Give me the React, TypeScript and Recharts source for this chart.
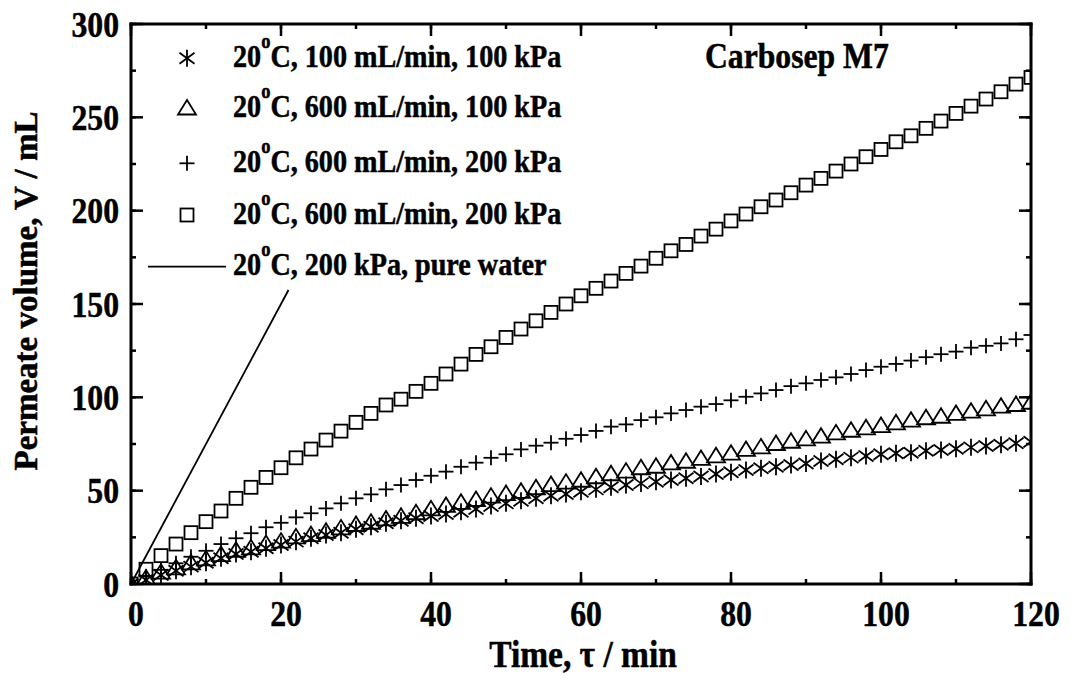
import React from "react";
import { ScatterChart, Scatter, XAxis, YAxis, Legend } from "recharts";

const FONT = "'Liberation Serif', 'Times New Roman', serif";
const SX = 0.88;
const W = 1063;
const H = 665;

const TIME = [
  0, 2, 4, 6, 8, 10, 12, 14, 16, 18, 20, 22, 24, 26, 28, 30, 32, 34, 36, 38, 40,
  42, 44, 46, 48, 50, 52, 54, 56, 58, 60, 62, 64, 66, 68, 70, 72, 74, 76, 78, 80,
  82, 84, 86, 88, 90, 92, 94, 96, 98, 100, 102, 104, 106, 108, 110, 112, 114, 116, 118, 120,
];

// 20 C, 100 mL/min, 100 kPa
const STAR = [
  0, 2.1, 4.8, 7.1, 9.3, 11.4, 13.8, 16.1, 17.3, 19.1, 20.9, 22.7, 24.5, 26.2, 27.5, 29.3, 30.7, 32.5, 33.9, 35.2, 36.4,
  37.5, 38.7, 40.2, 41.8, 43.2, 44.6, 45.9, 47.3, 48.2, 49.4, 50.7, 51.8, 53.0, 53.9, 54.8, 55.7, 56.6, 57.6, 58.9, 59.9,
  61.1, 62.0, 62.8, 63.7, 64.6, 65.9, 66.8, 67.7, 68.6, 69.5, 70.0, 70.3, 71.4, 71.8, 72.5, 73.2, 73.9, 74.6, 75.4, 76.2,
];

// 20 C, 600 mL/min, 100 kPa
const TRI = [
  0, 3.0, 6.1, 8.4, 11.1, 13.2, 15.5, 17.8, 19.1, 21.4, 22.7, 25.0, 26.2, 28.0, 29.8, 31.6, 32.8, 34.6, 36.0, 37.9, 40.0,
  41.8, 43.5, 45.0, 46.8, 48.2, 49.4, 51.3, 53.0, 54.3, 55.3, 57.2, 58.8, 60.2, 62.0, 62.8, 64.6, 65.5, 67.0, 68.4, 69.8,
  71.8, 73.2, 75.0, 76.2, 77.5, 78.9, 80.7, 82.1, 83.4, 84.6, 86.1, 87.5, 88.8, 89.6, 91.1, 92.3, 93.6, 95.0, 95.9, 97.1,
];

// 20 C, 600 mL/min, 200 kPa (+)
const PLUS = [
  0, 4.0, 7.6, 11.1, 14.6, 17.8, 21.4, 24.5, 27.2, 30.4, 32.8, 35.7, 37.9, 40.5, 43.2, 45.9, 48.0, 50.7, 53.0, 55.7, 58.0,
  60.2, 62.8, 65.0, 67.6, 69.5, 72.1, 74.1, 75.7, 77.8, 79.8, 82.0, 84.3, 85.5, 87.8, 89.3, 91.4, 93.2, 95.0, 96.4, 98.4,
  100.3, 102.1, 103.9, 106.0, 107.5, 109.3, 110.7, 112.5, 114.6, 116.4, 117.9, 119.7, 121.5, 123.1, 124.5, 126.6, 127.6, 128.9, 131.1, 133.4,
];

// 20 C, 600 mL/min, 200 kPa (square)
const SQUARE = [
  0, 7.9, 15.2, 21.4, 27.5, 33.4, 39.1, 45.9, 51.8, 57.1, 62.3, 67.6, 72.3, 77.1, 81.9, 86.6, 91.4, 95.9, 99.0, 103.2, 107.5,
  112.5, 117.8, 123.0, 127.1, 132.1, 136.6, 141.0, 145.5, 150.0, 154.4, 158.4, 162.3, 166.4, 170.3, 174.5, 178.5, 181.9, 186.4, 190.1, 194.5,
  198.2, 202.1, 205.7, 209.6, 213.7, 217.3, 221.2, 225.0, 228.9, 232.8, 236.9, 240.1, 244.1, 248.0, 252.1, 256.0, 259.8, 263.7, 267.8, 271.4,
];

// pure water line
const WATER_T = [0, 21];
const WATER_V = [0, 157.5];

const X_MAJOR = [0, 20, 40, 60, 80, 100, 120];
const X_MINOR = [0, 10, 20, 30, 40, 50, 60, 70, 80, 90, 100, 110, 120];
const Y_MAJOR = [0, 50, 100, 150, 200, 250, 300];
const Y_MINOR = [0, 25, 50, 75, 100, 125, 150, 175, 200, 225, 250, 275, 300];

const LEGEND = [
  { kind: "star", rest: "C, 100 mL/min, 100 kPa" },
  { kind: "tri", rest: "C, 600 mL/min, 100 kPa" },
  { kind: "plus", rest: "C, 600 mL/min, 200 kPa" },
  { kind: "square", rest: "C, 600 mL/min, 200 kPa" },
  { kind: "line", rest: "C, 200 kPa, pure water" },
];
const LEGEND_Y = [50.3, 100.5, 155.3, 207, 258.7];

const toPoints = (vals: number[]) => TIME.map((t, i) => ({ t, v: vals[i] }));
const water = WATER_T.map((t, i) => ({ t, v: WATER_V[i] }));

function Txt({ x, y, size, anchor = "start", children }: any) {
  return (
    <text
      transform={`translate(${x},${y}) scale(${SX},1)`}
      fontFamily={FONT}
      fontWeight={700}
      fontSize={size}
      textAnchor={anchor}
      fill="#000"
      stroke="#000"
      strokeWidth={0.5}
    >
      {children}
    </text>
  );
}

function Marker({ kind, cx, cy }: { kind: string; cx: number; cy: number }) {
  const s = { stroke: "#000", strokeWidth: 1.8, fill: "none" };
  if (kind === "square")
    return <rect x={cx - 6.5} y={cy - 6.5} width={13} height={13} {...s} />;
  if (kind === "tri")
    return (
      <polygon
        points={`${cx},${cy - 8.5} ${cx - 9},${cy + 6} ${cx + 9},${cy + 6}`}
        {...s}
      />
    );
  if (kind === "plus")
    return (
      <g {...s}>
        <line x1={cx - 7.5} y1={cy} x2={cx + 7.5} y2={cy} />
        <line x1={cx} y1={cy - 7.5} x2={cx} y2={cy + 7.5} />
      </g>
    );
  return (
    <g {...s}>
      <line x1={cx} y1={cy - 8.5} x2={cx} y2={cy + 8.5} />
      <line x1={cx - 7.5} y1={cy - 5.5} x2={cx + 7.5} y2={cy + 5.5} />
      <line x1={cx - 7.5} y1={cy + 5.5} x2={cx + 7.5} y2={cy - 5.5} />
    </g>
  );
}

const BottomLabel = (p: any) => (
  <Txt x={p.x + 5} y={p.y + 42} size={36} anchor="middle">
    {p.payload.value}
  </Txt>
);

const LeftLabel = (p: any) => (
  <Txt x={p.x - 12} y={p.y + 12.5} size={36} anchor="end">
    {p.payload.value}
  </Txt>
);

const NoLabel = () => <g />;

const FRAME = { stroke: "#000", strokeWidth: 3, strokeLinecap: "square" as const };
const TICK_LINE = { stroke: "#000", strokeWidth: 2.5 };

// axes are 1px thick; the room for the labels comes from the margins
const xCommon = {
  type: "number" as const,
  dataKey: "t",
  domain: [0, 120],
  allowDataOverflow: true,
  height: 1,
  interval: 0 as const,
  tickLine: TICK_LINE,
  tickMargin: 12,
};
const yCommon = {
  type: "number" as const,
  dataKey: "v",
  domain: [0, 300],
  allowDataOverflow: true,
  width: 1,
  interval: 0 as const,
  tickLine: TICK_LINE,
  tickMargin: 12,
};

function Overlay() {
  return (
    <svg
      width={W}
      height={H + 16}
      style={{ position: "absolute", left: 0, top: 0, pointerEvents: "none", overflow: "visible" }}
    >
      {LEGEND.map((item, i) => {
        const y = LEGEND_Y[i];
        return (
          <g key={i}>
            {item.kind === "line" ? (
              <line x1={140} y1={y} x2={218} y2={y} stroke="#000" strokeWidth={1.8} />
            ) : (
              <Marker kind={item.kind} cx={179} cy={y} />
            )}
            <Txt x={225} y={y + 8.5} size={32}>
              20
              <tspan dy={-19} fontSize={21}>o</tspan>
              <tspan dy={19}>{item.rest}</tspan>
            </Txt>
          </g>
        );
      })}
      <Txt x={697} y={60} size={36}>
        Carbosep M7
      </Txt>
      <Txt x={575} y={659} size={38} anchor="middle">
        Time, τ / min
      </Txt>
      <text
        transform="translate(29,283) rotate(-90)"
        fontFamily={FONT}
        fontWeight={700}
        fontSize={33}
        textAnchor="middle"
        fill="#000"
        stroke="#000"
        strokeWidth={0.5}
      >
        Permeate volume, V / mL
      </text>
    </svg>
  );
}

export default function App() {
  return (
    <ScatterChart width={W} height={H} margin={{ top: 14, right: 38, bottom: 87, left: 121 }}>
      <XAxis {...xCommon} ticks={X_MAJOR} tickSize={-12} axisLine={FRAME} tick={BottomLabel} />
      <XAxis {...xCommon} xAxisId="bMinor" ticks={X_MINOR} tickSize={-6} axisLine={false} tick={NoLabel} />
      <XAxis {...xCommon} xAxisId="tMajor" orientation="top" ticks={X_MAJOR} tickSize={-12} axisLine={FRAME} tick={NoLabel} />
      <XAxis {...xCommon} xAxisId="tMinor" orientation="top" ticks={X_MINOR} tickSize={-6} axisLine={false} tick={NoLabel} />
      <YAxis {...yCommon} ticks={Y_MAJOR} tickSize={-12} axisLine={FRAME} tick={LeftLabel} />
      <YAxis {...yCommon} yAxisId="lMinor" ticks={Y_MINOR} tickSize={-6} axisLine={false} tick={NoLabel} />
      <YAxis {...yCommon} yAxisId="rMajor" orientation="right" ticks={Y_MAJOR} tickSize={-12} axisLine={FRAME} tick={NoLabel} />
      <YAxis {...yCommon} yAxisId="rMinor" orientation="right" ticks={Y_MINOR} tickSize={-6} axisLine={false} tick={NoLabel} />
      <Scatter
        data={water}
        line={{ stroke: "#000", strokeWidth: 1.8 }}
        shape={() => <g />}
        isAnimationActive={false}
      />
      <Scatter
        data={toPoints(SQUARE)}
        shape={(p: any) => <Marker kind="square" cx={p.cx} cy={p.cy} />}
        isAnimationActive={false}
      />
      <Scatter
        data={toPoints(PLUS)}
        shape={(p: any) => <Marker kind="plus" cx={p.cx} cy={p.cy} />}
        isAnimationActive={false}
      />
      <Scatter
        data={toPoints(TRI)}
        shape={(p: any) => <Marker kind="tri" cx={p.cx} cy={p.cy} />}
        isAnimationActive={false}
      />
      <Scatter
        data={toPoints(STAR)}
        shape={(p: any) => <Marker kind="star" cx={p.cx} cy={p.cy} />}
        isAnimationActive={false}
      />
      <Legend
        layout="horizontal"
        verticalAlign="middle"
        align="center"
        wrapperStyle={{ left: 0, top: 0, width: W, height: H, pointerEvents: "none" }}
        content={() => <Overlay />}
      />
    </ScatterChart>
  );
}
